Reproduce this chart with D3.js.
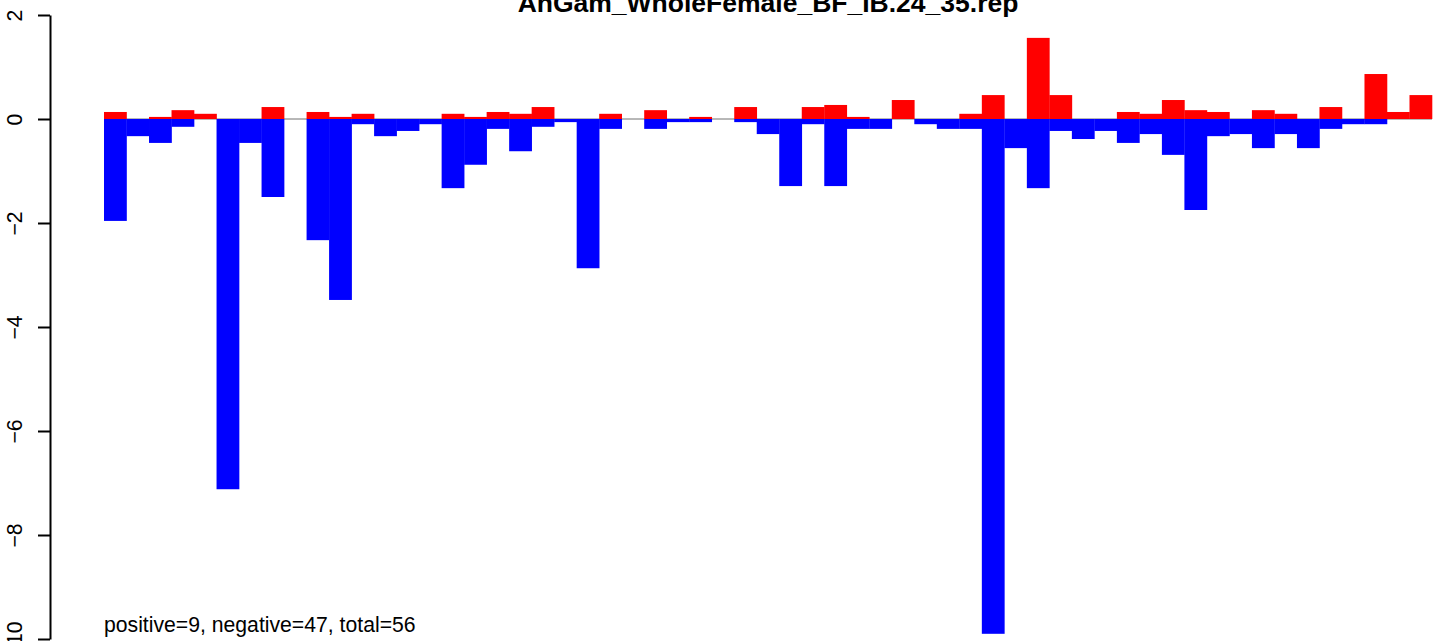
<!DOCTYPE html>
<html>
<head>
<meta charset="utf-8">
<script src="https://cdn.jsdelivr.net/npm/d3@7"></script>
<style>
	html, body { margin: 0; padding: 0; background: #fff; }
	svg { display: block; }
</style>
</head>
<body>
<div class="bar-plot"></div>
<script>
var title = 'AnGam_WholeFemale_BF_IB.24_35.rep';
var summary = 'positive=9, negative=47, total=56';

// one value per slot (0 where no bar is drawn)
var posValues = [
	0.135, 0, 0.04, 0.17, 0.10, 0, 0, 0.23, 0, 0.135,
	0.04, 0.10, 0, 0, 0, 0.10, 0.04, 0.135, 0.10, 0.23,
	0, 0, 0.10, 0, 0.17, 0, 0.04, 0, 0.23, 0,
	0, 0.23, 0.27, 0.04, 0, 0.365, 0, 0, 0.10, 0.46,
	0, 1.56, 0.46, 0, 0, 0.135, 0.10, 0.365, 0.17, 0.135,
	0, 0.17, 0.10, 0, 0.23, 0, 0.865, 0.135, 0.46
];
var negValues = [
	-1.96, -0.33, -0.46, -0.15, 0, -7.12, -0.46, -1.50, 0, -2.33,
	-3.48, -0.10, -0.33, -0.23, -0.10, -1.33, -0.88, -0.19, -0.62, -0.15,
	-0.06, -2.87, -0.19, 0, -0.19, -0.06, -0.06, 0, -0.06, -0.29,
	-1.29, -0.10, -1.29, -0.19, -0.19, 0, -0.10, -0.19, -0.19, -9.90,
	-0.56, -1.33, -0.23, -0.385, -0.23, -0.46, -0.29, -0.69, -1.75, -0.33,
	-0.29, -0.56, -0.29, -0.56, -0.19, -0.10, -0.10, 0, 0
];
var categories = d3.range(1, posValues.length + 1);
var yTickValues = [-10, -8, -6, -4, -2, 0, 2];

var width = 1444,
	height = 641;
var posColor = '#ff0000',
	negColor = '#0000ff',
	zeroColor = '#707070',
	fontSize = '21.2px';

var x = d3.scaleBand().domain(categories).range([104, 1432]).padding(0);
var y = d3.scaleLinear().domain([-10, 2]).range([639, 15]);

var svg = d3.select('.bar-plot').append('svg')
	.attr('width', width)
	.attr('height', height)
	.attr('font-family', 'Liberation Sans, Arial, sans-serif');

// zero line
svg.append('line')
	.attr('x1', x.range()[0])
	.attr('x2', x.range()[1])
	.attr('y1', y(0))
	.attr('y2', y(0))
	.attr('stroke', zeroColor)
	.attr('stroke-width', 1);

// positive bars
svg.append('g').selectAll('rect')
	.data(categories)
	.join('rect')
		.attr('x', function(d) { return x(d); })
		.attr('width', x.bandwidth() + 0.3)
		.attr('y', function(d, i) { return y(posValues[i]); })
		.attr('height', function(d, i) { return y(0) - y(posValues[i]); })
		.attr('fill', posColor);

// negative bars
svg.append('g').selectAll('rect')
	.data(categories)
	.join('rect')
		.attr('x', function(d) { return x(d); })
		.attr('width', x.bandwidth() + 0.3)
		.attr('y', y(0))
		.attr('height', function(d, i) { return y(negValues[i]) - y(0); })
		.attr('fill', negColor);

// y axis with rotated labels, as R draws them
var yAxis = svg.append('g')
	.attr('transform', 'translate(50,0)')
	.call(d3.axisLeft(y)
		.tickValues(yTickValues)
		.tickSize(12)
		.tickSizeOuter(0));
yAxis.select('.domain').attr('stroke-width', 2);
yAxis.selectAll('.tick line').attr('stroke-width', 2);
yAxis.selectAll('.tick text')
	.attr('x', null)
	.attr('dy', null)
	.attr('transform', 'translate(-28,0) rotate(-90)')
	.attr('text-anchor', 'middle')
	.attr('font-size', fontSize)
	.attr('font-family', 'Liberation Sans, Arial, sans-serif')
	.attr('fill', '#000');

// title, cut off at the top like the original
svg.append('text')
	.attr('x', 768)
	.attr('y', 12)
	.attr('text-anchor', 'middle')
	.attr('font-size', '26.5px')
	.attr('font-weight', 'bold')
	.text(title);

svg.append('text')
	.attr('x', x.range()[0])
	.attr('y', 632)
	.attr('text-anchor', 'start')
	.attr('font-size', fontSize)
	.text(summary);
</script>
</body>
</html>
